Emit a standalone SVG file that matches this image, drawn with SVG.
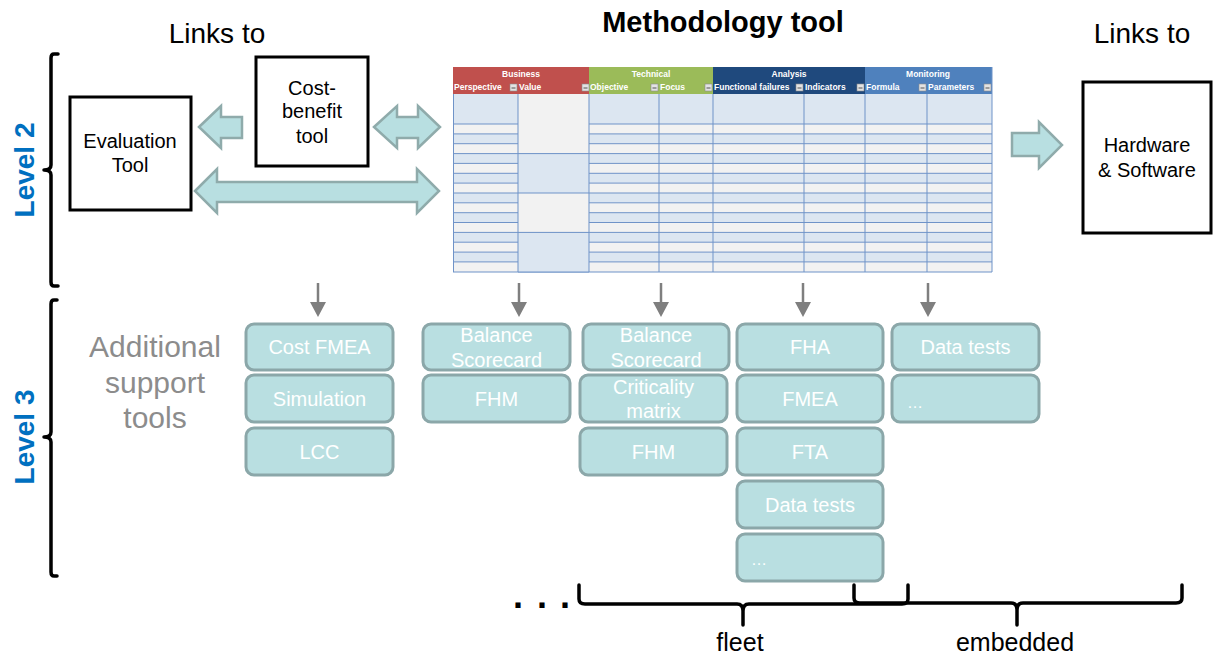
<svg xmlns="http://www.w3.org/2000/svg" width="1213" height="659" viewBox="0 0 1213 659">
<style>
text{font-family:"Liberation Sans",Arial,Helvetica,sans-serif;}
.title{font-size:29px;font-weight:bold;fill:#000;text-anchor:middle}
.links{font-size:28px;fill:#000;text-anchor:middle}
.lvl{font-size:28px;font-weight:bold;fill:#0070c0;text-anchor:middle}
.box{fill:#fff;stroke:#000;stroke-width:3}
.boxt{font-size:20px;fill:#000;text-anchor:middle}
.blk{fill:#b8dfe1;stroke:#8fabab;stroke-width:2.5;stroke-linejoin:miter}
.tool{fill:#b9dfe1;stroke:#8ba7a9;stroke-width:3}
.toolt{font-size:20px;fill:#fff;text-anchor:middle}
.dots{font-size:16px;fill:#fff}
.brk{fill:none;stroke:#000;stroke-width:3.5;stroke-linecap:round;stroke-linejoin:round}
.garr{stroke:#7f7f7f;stroke-width:2.5}
.gtri{fill:#7f7f7f}
.hd1{font-size:8.5px;font-weight:bold;fill:#fff;text-anchor:middle}
.hd2{font-size:8.5px;font-weight:bold;fill:#fff}
.fb{fill:#e3e3e3;stroke:#8c8c8c;stroke-width:0.6}
.grid{stroke:#6f93c8;stroke-width:1}
.sub{font-size:30px;fill:#8c8c8c;text-anchor:middle}
.under{font-size:25px;fill:#000;text-anchor:middle}
</style>

<g id="title">
<text class="title" x="723" y="32">Methodology tool</text>
<text class="links" x="217" y="43">Links to</text>
<text class="links" x="1142" y="43">Links to</text>
</g>

<g id="level2">
<path class="brk" d="M58,54 H54 Q51,54 51,58 V165 Q51,170 44,170 Q51,170 51,175 V282 Q51,286 54,286 H58"/>
<text class="lvl" transform="translate(34,170) rotate(-90)">Level 2</text>
</g>

<g id="level3">
<path class="brk" d="M57,300 H54 Q51,300 51,304 V432 Q51,437 44,437 Q51,437 51,442 V572 Q51,576 54,576 H57"/>
<text class="lvl" transform="translate(34,437) rotate(-90)">Level 3</text>
</g>

<g id="evaluation-tool">
<rect class="box" x="70" y="97" width="121" height="113"/>
<text class="boxt" x="130" y="148">Evaluation</text>
<text class="boxt" x="130" y="172">Tool</text>
</g>

<g id="cost-benefit-tool">
<rect class="box" x="256" y="57" width="112" height="109"/>
<text class="boxt" x="312" y="95">Cost-</text>
<text class="boxt" x="312" y="118">benefit</text>
<text class="boxt" x="312" y="143">tool</text>
</g>

<g id="hardware-software">
<rect class="box" x="1083" y="82" width="128" height="151"/>
<text class="boxt" x="1147" y="152">Hardware</text>
<text class="boxt" x="1147" y="177">&amp; Software</text>
</g>

<g id="methodology-table">
<rect x="453" y="67" width="136" height="27" fill="#c0504d"/>
<rect x="589" y="67" width="124" height="27" fill="#9bbb59"/>
<rect x="713" y="67" width="152" height="27" fill="#1f497d"/>
<rect x="865" y="67" width="127" height="27" fill="#4f81bd"/>
<text class="hd1" x="521" y="77">Business</text>
<text class="hd1" x="651" y="77">Technical</text>
<text class="hd1" x="789" y="77">Analysis</text>
<text class="hd1" x="928" y="77">Monitoring</text>
<text class="hd2" x="454" y="90">Perspective</text>
<text class="hd2" x="519" y="90">Value</text>
<text class="hd2" x="590" y="90">Objective</text>
<text class="hd2" x="660" y="90">Focus</text>
<text class="hd2" x="714" y="90">Functional failures</text>
<text class="hd2" x="805" y="90">Indicators</text>
<text class="hd2" x="866" y="90">Formula</text>
<text class="hd2" x="928" y="90">Parameters</text>
<g>
<rect class="fb" x="510" y="84" width="7" height="7"/>
<rect class="fb" x="582" y="84" width="7" height="7"/>
<rect class="fb" x="651" y="84" width="7" height="7"/>
<rect class="fb" x="705" y="84" width="7" height="7"/>
<rect class="fb" x="796" y="84" width="7" height="7"/>
<rect class="fb" x="857" y="84" width="7" height="7"/>
<rect class="fb" x="919" y="84" width="7" height="7"/>
<rect class="fb" x="984" y="84" width="7" height="7"/>
<path d="M511.5,88 h4 M583.5,88 h4 M652.5,88 h4 M706.5,88 h4 M797.5,88 h4 M858.5,88 h4 M920.5,88 h4 M985.5,88 h4" stroke="#555" stroke-width="1.2"/>
</g>
<rect x="453" y="94" width="539" height="30" fill="#dce6f1"/>
<rect x="453" y="124" width="539" height="9.9" fill="#f2f2f2"/>
<rect x="453" y="133.9" width="539" height="9.8" fill="#dce6f1"/>
<rect x="453" y="143.7" width="539" height="9.9" fill="#f2f2f2"/>
<rect x="453" y="153.6" width="539" height="9.8" fill="#dce6f1"/>
<rect x="453" y="163.4" width="539" height="9.9" fill="#f2f2f2"/>
<rect x="453" y="173.3" width="539" height="9.8" fill="#dce6f1"/>
<rect x="453" y="183.1" width="539" height="9.9" fill="#f2f2f2"/>
<rect x="453" y="193" width="539" height="9.8" fill="#dce6f1"/>
<rect x="453" y="202.8" width="539" height="9.9" fill="#f2f2f2"/>
<rect x="453" y="212.7" width="539" height="9.8" fill="#dce6f1"/>
<rect x="453" y="222.5" width="539" height="9.9" fill="#f2f2f2"/>
<rect x="453" y="232.4" width="539" height="9.8" fill="#dce6f1"/>
<rect x="453" y="242.2" width="539" height="9.9" fill="#f2f2f2"/>
<rect x="453" y="252.1" width="539" height="9.8" fill="#dce6f1"/>
<rect x="453" y="261.9" width="539" height="10.1" fill="#f2f2f2"/>
<path class="grid" d="M453,124 H992 M453,133.9 H992 M453,143.7 H992 M453,153.6 H992 M453,163.4 H992 M453,173.3 H992 M453,183.1 H992 M453,193 H992 M453,202.8 H992 M453,212.7 H992 M453,222.5 H992 M453,232.4 H992 M453,242.2 H992 M453,252.1 H992 M453,261.9 H992 M453,272 H992"/>
<rect x="518" y="94" width="71" height="59.6" fill="#f2f2f2"/>
<rect x="518" y="153.6" width="71" height="39.4" fill="#dce6f1"/>
<rect x="518" y="193" width="71" height="39.4" fill="#f2f2f2"/>
<rect x="518" y="232.4" width="71" height="39.6" fill="#dce6f1"/>
<path class="grid" d="M518,153.6 H589 M518,193 H589 M518,232.4 H589 M518,272 H589"/>
<path class="grid" d="M453.5,94 V272 M518,94 V272 M589,94 V272 M659,94 V272 M713,94 V272 M804,94 V272 M865,94 V272 M927,94 V272 M992,67 V272"/>
</g>

<g id="additional-support-tools">
<text class="sub" x="155" y="357">Additional</text>
<text class="sub" x="155" y="393">support</text>
<text class="sub" x="155" y="428">tools</text>
</g>

<g id="tool-cost-fmea"><rect class="tool" x="246" y="324" width="147" height="46" rx="8"/><text class="toolt" x="319.5" y="354">Cost FMEA</text></g>
<g id="tool-simulation"><rect class="tool" x="246" y="375" width="147" height="47" rx="8"/><text class="toolt" x="319.5" y="406">Simulation</text></g>
<g id="tool-lcc"><rect class="tool" x="246" y="428" width="147" height="47" rx="8"/><text class="toolt" x="319.5" y="459">LCC</text></g>

<g id="tool-balance-scorecard-1"><rect class="tool" x="423" y="324" width="147" height="46" rx="8"/><text class="toolt" x="496.5" y="342">Balance</text><text class="toolt" x="496.5" y="367">Scorecard</text></g>
<g id="tool-fhm-1"><rect class="tool" x="423" y="375" width="147" height="47" rx="8"/><text class="toolt" x="496.5" y="406">FHM</text></g>

<g id="tool-balance-scorecard-2"><rect class="tool" x="583" y="324" width="146" height="46" rx="8"/><text class="toolt" x="656" y="342">Balance</text><text class="toolt" x="656" y="367">Scorecard</text></g>
<g id="tool-criticality-matrix"><rect class="tool" x="580" y="375" width="147" height="47" rx="8"/><text class="toolt" x="653.5" y="394">Criticality</text><text class="toolt" x="653.5" y="418">matrix</text></g>
<g id="tool-fhm-2"><rect class="tool" x="580" y="428" width="147" height="47" rx="8"/><text class="toolt" x="653.5" y="459">FHM</text></g>

<g id="tool-fha"><rect class="tool" x="737" y="324" width="146" height="46" rx="8"/><text class="toolt" x="810" y="354">FHA</text></g>
<g id="tool-fmea"><rect class="tool" x="737" y="375" width="146" height="47" rx="8"/><text class="toolt" x="810" y="406">FMEA</text></g>
<g id="tool-fta"><rect class="tool" x="737" y="428" width="146" height="47" rx="8"/><text class="toolt" x="810" y="459">FTA</text></g>
<g id="tool-data-tests-1"><rect class="tool" x="737" y="481" width="146" height="47" rx="8"/><text class="toolt" x="810" y="512">Data tests</text></g>
<g id="tool-more-1"><rect class="tool" x="737" y="534" width="146" height="47" rx="8"/><text class="dots" x="751" y="565">…</text></g>

<g id="tool-data-tests-2"><rect class="tool" x="892" y="324" width="147" height="46" rx="8"/><text class="toolt" x="965.5" y="354">Data tests</text></g>
<g id="tool-more-2"><rect class="tool" x="892" y="375" width="147" height="47" rx="8"/><text class="dots" x="907" y="408">…</text></g>

<g id="connectors">
<polygon class="blk" points="199,127 221,106 221,117 242,117 242,138 221,138 221,148"/>
<polygon class="blk" points="374,127 397,106 397,117 418,117 418,106 440,127 418,148 418,138 397,138 397,148"/>
<polygon class="blk" points="195,191 217,169 217,182 417,182 417,169 439,191 417,213 417,202 217,202 217,213"/>
<polygon class="blk" points="1012,133 1039,133 1039,122 1062,145 1039,168 1039,156 1012,156"/>
<g>
<line class="garr" x1="318" y1="283" x2="318" y2="304"/><polygon class="gtri" points="310,302 326,302 318,317"/>
<line class="garr" x1="519" y1="283" x2="519" y2="304"/><polygon class="gtri" points="511,302 527,302 519,317"/>
<line class="garr" x1="661" y1="283" x2="661" y2="304"/><polygon class="gtri" points="653,302 669,302 661,317"/>
<line class="garr" x1="803" y1="283" x2="803" y2="304"/><polygon class="gtri" points="795,302 811,302 803,317"/>
<line class="garr" x1="928" y1="283" x2="928" y2="304"/><polygon class="gtri" points="920,302 936,302 928,317"/>
</g>
</g>

<g id="scope-brackets">
<text x="513 537 560" y="608" font-size="36" font-weight="bold" fill="#000">...</text>
<path class="brk" d="M579,585 V599 Q579,604 585,604 H737 Q743,604 743,611 V625 M743,611 Q743,604 749,604 H902 Q908,604 908,599 V585"/>
<path class="brk" d="M854,585 V598 Q854,603 860,603 H1011 Q1017,603 1017,610 V625 M1017,610 Q1017,603 1023,603 H1176 Q1182,603 1182,598 V585"/>
<text class="under" x="740" y="651">fleet</text>
<text class="under" x="1015" y="651">embedded</text>
</g>
</svg>
